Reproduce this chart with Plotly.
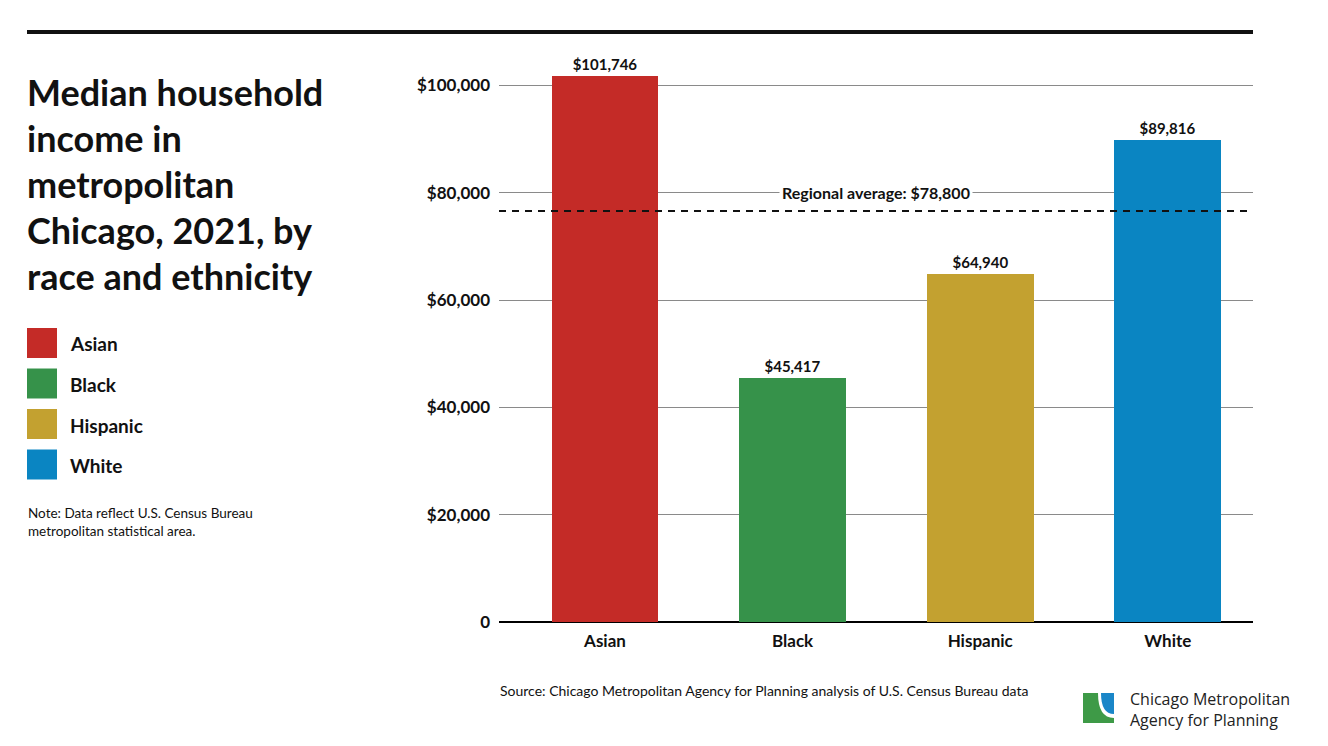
import plotly.graph_objects as go

categories = ["Asian", "Black", "Hispanic", "White"]
incomes = [101746, 45417, 64940, 89816]
value_labels = ["$101,746", "$45,417", "$64,940", "$89,816"]
colors = ["#C42B27", "#36924A", "#C3A130", "#0A85C2"]
tick_vals = [0, 20000, 40000, 60000, 80000, 100000]
tick_text = ["0", "$20,000", "$40,000", "$60,000", "$80,000", "$100,000"]
regional_avg_line = 76600
regional_avg_label = "Regional average: $78,800"
title_lines = ["Median household", "income in", "metropolitan",
               "Chicago, 2021, by", "race and ethnicity"]

FONT = "Lato"
xpos = list(range(len(categories)))

fig = go.Figure()
fig.add_trace(go.Bar(
    x=xpos, y=incomes, width=0.569, marker=dict(color=colors, line=dict(width=0)),
    text=value_labels, textposition="outside", cliponaxis=False,
    textfont=dict(family=FONT, size=15, color="#111111", weight="bold"),
    showlegend=False, hoverinfo="skip",
))

fig.update_layout(
    width=1328, height=746,
    margin=dict(l=499, r=75, t=40, b=124),
    paper_bgcolor="white", plot_bgcolor="white",
    bargap=0,
    xaxis=dict(
        range=[-0.565, 3.454], tickvals=xpos, ticktext=categories,
        showgrid=False, zeroline=False, showline=False, ticks="",
        ticklabelstandoff=7,
        tickfont=dict(family=FONT, size=17, color="#111111", weight="bold"),
        fixedrange=True,
    ),
    yaxis=dict(
        range=[0, 108460], tickvals=tick_vals, ticktext=tick_text,
        showgrid=True, gridcolor="#8a8a8a", gridwidth=1,
        zeroline=True, zerolinecolor="#000000", zerolinewidth=1.5,
        showline=False, ticks="", ticklabelstandoff=8,
        tickfont=dict(family=FONT, size=17, color="#111111", weight="bold"),
        fixedrange=True,
    ),
)

# Regional average dashed line
fig.add_shape(type="line", xref="paper", yref="y", x0=0, x1=1,
              y0=regional_avg_line, y1=regional_avg_line,
              line=dict(color="#111111", width=2, dash="7px,6px"))
fig.add_annotation(x=1.445, y=80000, xref="x", yref="y", text=regional_avg_label,
                   showarrow=False, bgcolor="white", borderpad=2,
                   font=dict(family=FONT, size=16, color="#111111", weight="bold"))

def px_x(px):
    return (px - 499) / 754

def px_y(py):
    return (622 - py) / 582

# Top rule
fig.add_shape(type="line", xref="paper", yref="paper",
              x0=px_x(27), x1=1, y0=px_y(32), y1=px_y(32),
              line=dict(color="#111111", width=4))

# Title
for i, line in enumerate(title_lines):
    fig.add_annotation(
        x=px_x(25), y=px_y(92 + i * 46), xref="paper", yref="paper",
        xanchor="left", yanchor="middle", align="left", showarrow=False,
        text=line, font=dict(family=FONT, size=36, color="#111111", weight="bold"),
    )

# Legend
for i, (cat, col) in enumerate(zip(categories, colors)):
    top = 328 + i * 40.5
    fig.add_shape(type="rect", xref="paper", yref="paper",
                  x0=px_x(27), x1=px_x(57), y0=px_y(top + 30), y1=px_y(top),
                  fillcolor=col, line=dict(width=0))
    fig.add_annotation(x=px_x(68), y=px_y(top + 16), xref="paper", yref="paper",
                       xanchor="left", yanchor="middle", showarrow=False, text=cat,
                       font=dict(family=FONT, size=19, color="#111111", weight="bold"))

# Note
fig.add_annotation(
    x=px_x(26), y=px_y(503), xref="paper", yref="paper", xanchor="left", yanchor="top",
    align="left", showarrow=False,
    text="Note: Data reflect U.S. Census Bureau<br>metropolitan statistical area.",
    font=dict(family=FONT, size=13.5, color="#111111"),
)

# Source
fig.add_annotation(
    x=px_x(498), y=px_y(690), xref="paper", yref="paper", xanchor="left", yanchor="middle",
    showarrow=False,
    text="Source: Chicago Metropolitan Agency for Planning analysis of U.S. Census Bureau data",
    font=dict(family=FONT, size=14, color="#111111"),
)

# Logo
fig.add_shape(type="rect", xref="paper", yref="paper",
              x0=px_x(1083), x1=px_x(1114), y0=px_y(723), y1=px_y(693),
              fillcolor="#3E9A47", line=dict(width=0))
fig.add_shape(type="path", xref="paper", yref="paper",
              path=(f"M {px_x(1098)} {px_y(693)} L {px_x(1114)} {px_y(693)} "
                    f"L {px_x(1114)} {px_y(718)} "
                    f"Q {px_x(1098)} {px_y(718)} {px_x(1098)} {px_y(693)} Z"),
              fillcolor="white", line=dict(width=0))
fig.add_shape(type="path", xref="paper", yref="paper",
              path=(f"M {px_x(1101)} {px_y(693)} L {px_x(1114)} {px_y(693)} "
                    f"L {px_x(1114)} {px_y(714)} "
                    f"Q {px_x(1101)} {px_y(714)} {px_x(1101)} {px_y(693)} Z"),
              fillcolor="#1A86C8", line=dict(width=0))
fig.add_annotation(
    x=px_x(1128), y=px_y(709), xref="paper", yref="paper", xanchor="left", yanchor="middle",
    align="left", showarrow=False,
    text="Chicago Metropolitan<br>Agency for Planning",
    font=dict(family="Open Sans", size=16, color="#222222"),
)

fig.write_html("out.html")
